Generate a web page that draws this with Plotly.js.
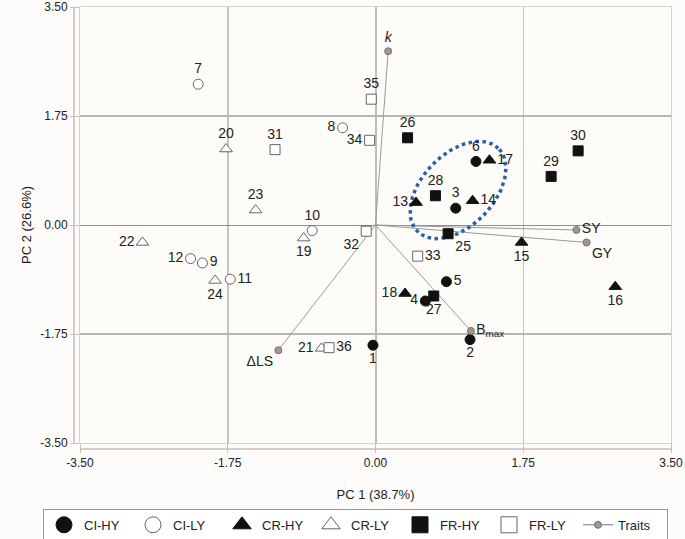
<!DOCTYPE html>
<html><head><meta charset="utf-8">
<script src="https://cdn.plot.ly/plotly-3.0.1.min.js"></script>
<style>html,body{margin:0;padding:0;background:#fdfcfa}</style>
</head><body>
<div id="chart" style="width:685px;height:539px"></div>
<script>
// ---- data ----
const ciHY_lbl=['1','2','3','4','5','6'];
const ciHY_x=[-0.03,1.12,0.95,0.59,0.84,1.19];
const ciHY_y=[-1.93,-1.84,0.27,-1.22,-0.91,1.02];
const ciLY_lbl=['7','8','9','10','11','12'];
const ciLY_x=[-2.10,-0.39,-2.05,-0.75,-1.72,-2.19];
const ciLY_y=[2.26,1.56,-0.61,-0.09,-0.87,-0.54];
const crHY_lbl=['13','14','15','16','17','18'];
const crHY_x=[0.48,1.15,1.73,2.84,1.35,0.35];
const crHY_y=[0.36,0.39,-0.28,-0.99,1.04,-1.10];
const crLY_lbl=['19','20','21','22','23','24'];
const crLY_x=[-0.85,-1.77,-0.64,-2.76,-1.42,-1.90];
const crLY_y=[-0.21,1.22,-1.98,-0.28,0.24,-0.89];
const frHY_lbl=['25','26','27','28','29','30'];
const frHY_x=[0.86,0.38,0.69,0.71,2.08,2.40];
const frHY_y=[-0.14,1.40,-1.14,0.47,0.78,1.19];
const frLY_lbl=['31','32','33','34','35','36'];
const frLY_x=[-1.19,-0.11,0.50,-0.07,-0.05,-0.55];
const frLY_y=[1.21,-0.10,-0.50,1.36,2.02,-1.97];
const trait_lbl=['<i>k</i>','SY','GY','B<sub>max</sub>','ΔLS'];
const trait_x=[0.15,2.38,2.50,1.13,-1.15];
const trait_y=[2.79,-0.08,-0.28,-1.70,-2.01];
const axisTicks=[-3.5,-1.75,0,1.75,3.5];
const axisTickText=['-3.50','-1.75','0.00','1.75','3.50'];

// ---- label placement (style) ----
const pos_ciHY=['bottom center','bottom center','top center','middle left','middle right','top center'];
const pos_ciLY=['top center','middle left','middle right','top center','middle right','middle left'];
const pos_crHY=['middle left','middle right','bottom center','bottom center','middle right','middle left'];
const pos_crLY=['bottom center','top center','middle left','middle left','top center','bottom center'];
const pos_frHY=['bottom right','top center','bottom center','top center','top center','top center'];
const pos_frLY=['top center','bottom left','middle right','middle left','top center','middle right'];
const pos_trait=['top center','middle right','bottom right','middle right','bottom left'];

const FONT='"Liberation Sans", Arial, sans-serif';
const lblFont={family:FONT,size:14,color:'#222'};

function mk(symbol,filled,size){
  return {symbol:symbol,size:size,color:filled?'#111':'rgba(255,255,255,1)',
      line:{color:filled?'#111':'#666',width:1}};
}
function grp(name,x,y,lbl,pos,symbol,filled){
  return {type:'scatter',mode:'markers+text',name:name,x:x,y:y,text:lbl,showlegend:false,
    textposition:pos,textfont:lblFont,cliponaxis:false,hoverinfo:'skip',
    marker:mk(symbol,filled,symbol==='triangle-up'?11:10)};
}
function leg(name,symbol,filled){
  return {type:'scatter',mode:'markers',name:name,x:[null],y:[null],showlegend:true,
    hoverinfo:'skip',marker:mk(symbol,filled,16)};
}

// trait vectors from origin
const vx=[],vy=[];
trait_x.forEach((v,i)=>{vx.push(0,v,null);vy.push(0,trait_y[i],null);});

// ellipse (annotation) in plot pixels -> data units
const W=685-80-14,H=539-7-96;
const pxX=W/7,pxY=H/7;
const ecx=0.977,ecy=0.562,ea=58,eb=36,eth=46*Math.PI/180;
const ex=[],ey=[];
for(let i=0;i<=120;i++){const t=i/120*2*Math.PI;
  const dx=ea*Math.cos(eth)*Math.cos(t)-eb*Math.sin(eth)*Math.sin(t);
  const dy=ea*Math.sin(eth)*Math.cos(t)+eb*Math.cos(eth)*Math.sin(t);
  ex.push(ecx+dx/pxX);ey.push(ecy+dy/pxY);}

const traces=[
  {type:'scatter',mode:'lines',x:vx,y:vy,showlegend:false,hoverinfo:'skip',line:{color:'#9a9a9a',width:1}},
  {type:'scatter',mode:'lines',x:ex,y:ey,showlegend:false,hoverinfo:'skip',line:{color:'#2d5ea8',width:3.5,dash:'dot'}},
  grp('CI-HY',ciHY_x,ciHY_y,ciHY_lbl,pos_ciHY,'circle',true),
  grp('CI-LY',ciLY_x,ciLY_y,ciLY_lbl,pos_ciLY,'circle',false),
  grp('CR-HY',crHY_x,crHY_y,crHY_lbl,pos_crHY,'triangle-up',true),
  grp('CR-LY',crLY_x,crLY_y,crLY_lbl,pos_crLY,'triangle-up',false),
  grp('FR-HY',frHY_x,frHY_y,frHY_lbl,pos_frHY,'square',true),
  grp('FR-LY',frLY_x,frLY_y,frLY_lbl,pos_frLY,'square',false),
  {type:'scatter',mode:'markers+text',name:'Traits',x:trait_x,y:trait_y,text:trait_lbl,textposition:pos_trait,
   textfont:lblFont,cliponaxis:false,hoverinfo:'skip',showlegend:false,
   marker:{size:7,color:'#a39696',line:{color:'#7a6e6e',width:1}}},
  leg('CI-HY','circle',true),leg('CI-LY','circle',false),
  leg('CR-HY','triangle-up',true),leg('CR-LY','triangle-up',false),
  leg('FR-HY','square',true),leg('FR-LY','square',false),
  {type:'scatter',mode:'lines+markers',name:'Traits',x:[null],y:[null],showlegend:true,hoverinfo:'skip',
   line:{color:'#777',width:1},marker:{size:7,color:'#a39696',line:{color:'#7a6e6e',width:1}}}
];

const axisCol='#c9bfb4';
const layout={
  width:685,height:539,
  margin:{l:80,r:14,t:7,b:96,autoexpand:false},
  paper_bgcolor:'#fdfcfa',plot_bgcolor:'#fefcf8',
  font:{family:FONT,size:12,color:'#222'},
  showlegend:true,
  legend:{orientation:'h',xref:'paper',yref:'paper',x:-0.0626,xanchor:'left',y:-0.151,yanchor:'top',
    bgcolor:'#ffffff',bordercolor:'#999',borderwidth:1,
    font:{family:FONT,size:13,color:'#222'},entrywidth:44,entrywidthmode:'pixels',
    itemsizing:'trace',tracegroupgap:0},
  xaxis:{range:[-3.5,3.5],tickvals:axisTicks,ticktext:axisTickText,
    showgrid:true,gridcolor:'#c6c2bd',gridwidth:1.5,zeroline:true,zerolinecolor:'#c0bcb7',zerolinewidth:2,
    showline:true,linecolor:'#d6d2cd',linewidth:1,mirror:true,ticks:'outside',ticklen:9,tickcolor:axisCol,
    tickfont:{size:12,color:'#222'},
    title:{text:'PC 1 (38.7%)',font:{size:13,color:'#222'},standoff:20}},
  yaxis:{range:[-3.5,3.5],tickvals:axisTicks,ticktext:axisTickText,
    showgrid:true,gridcolor:'#b9b5b0',gridwidth:1.2,zeroline:true,zerolinecolor:'#8e8e8e',zerolinewidth:1,
    showline:true,linecolor:'#d6d2cd',linewidth:1,mirror:true,ticks:'outside',ticklen:9,tickcolor:axisCol,
    tickfont:{size:12,color:'#222'},
    title:{text:'PC 2 (26.6%)',font:{size:13,color:'#222'},standoff:5}},
  shapes:[
    {type:'line',xref:'paper',yref:'paper',xsizemode:'pixel',xanchor:0,x0:-6,x1:-6,y0:0,y1:1,
     line:{color:axisCol,width:1.5},layer:'above'},
    {type:'line',xref:'paper',yref:'paper',ysizemode:'pixel',yanchor:0,y0:-6,y1:-6,x0:0,x1:1,
     line:{color:axisCol,width:1.5},layer:'above'}
  ]
};
Plotly.newPlot('chart',traces,layout,{displayModeBar:false,staticPlot:true});
</script>
</body></html>
